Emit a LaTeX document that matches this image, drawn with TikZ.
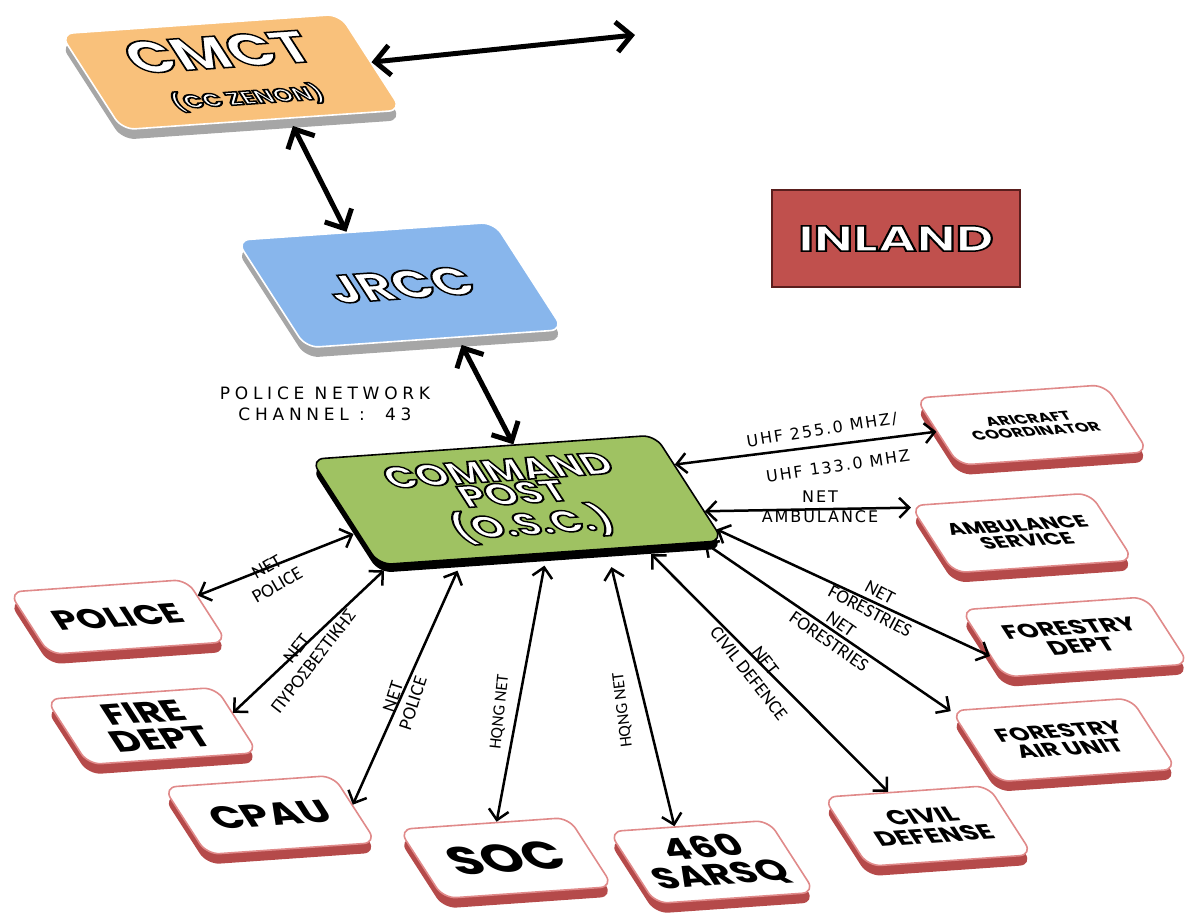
\documentclass[tikz,border=0pt]{standalone}
\usepackage{fontspec}
\usepackage{graphicx}
\setmainfont{Poppins}
\newfontfamily\labfont{DejaVu Sans}
\newfontfamily\netfont{Carlito}
\usetikzlibrary{arrows.meta,shadows}
\definecolor{cmctorange}{HTML}{F9C17B}
\definecolor{jrccblue}{HTML}{88B6EC}
\definecolor{cpgreen}{HTML}{9FC262}
\definecolor{inlandred}{HTML}{C0504D}
\definecolor{inlandedge}{HTML}{5A1E1D}
\definecolor{rimred}{HTML}{E08A8A}
\definecolor{sidered}{HTML}{B54A4A}
\newcommand{\fs}[1]{\fontsize{#1}{#1}\selectfont}
\newcommand{\wider}[1]{\scalebox{1.3}[1]{#1}}
\newcommand{\emb}[1]{\textcolor{white}{\special{pdf:literal direct 2 Tr 1.5 w 0 G}#1\special{pdf:literal direct 0 Tr}}}
\tikzset{
  slab/.style={rounded corners=13pt, rotate=4, xslant=-0.55, inner sep=0pt, line width=1.6pt, align=center},
  tsize/.style 2 args={font=\bfseries\fontsize{#1}{#2}\selectfont},
  redslab/.style={slab, fill=white, draw=rimred, general shadow={fill=sidered, shadow yshift=-10pt}},
  greyslab/.style={slab, draw=white, general shadow={fill=black!35, shadow yshift=-10pt}},
  blackslab/.style={slab, draw=black, general shadow={fill=black, shadow yshift=-8pt}},
  dims/.style 2 args={minimum width=#1, minimum height=#2},
  link/.style={{Straight Barb[length=10pt,width=20pt]}-{Straight Barb[length=10pt,width=20pt]}, line width=2.5pt},
  biglink/.style={{Straight Barb[length=15pt,width=30pt]}-{Straight Barb[length=15pt,width=30pt]}, line width=5pt},
  lab/.style={font=\labfont\addfontfeature{LetterSpace=12}\fontsize{16}{20}\selectfont, align=center, inner sep=0pt},
  netlab/.style={font=\netfont\fontsize{19}{21}\selectfont, align=center, inner sep=0pt}
}
\begin{document}
\begin{tikzpicture}[x=1pt,y=1pt]
\useasboundingbox (0,0) rectangle (1186,913);
\node[greyslab, fill=cmctorange, dims={280}{100}, tsize={46}{46}] (cmct) at (231,841) {\wider{\emb{CMCT}}\\[-8pt]\fs{19}\wider{\emb{(CC ZENON)}}};
\node[greyslab, fill=jrccblue, dims={258}{112}, tsize={40}{40}] (jrcc) at (400,628) {\wider{\emb{JRCC}}};
\node[blackslab, fill=cpgreen, dims={345}{110}, tsize={31}{24}] (cp) at (517,413) {\wider{\emb{COMMAND}}\\\wider{\emb{POST}}\\[2pt]\wider{\emb{(O.S.C.)}}};
\node[draw=inlandedge, fill=inlandred, line width=2pt, minimum width=248, minimum height=97, tsize={36}{36}] (inland) at (896,674.5) {\scalebox{1.45}[1]{\emb{INLAND}}};
\node[redslab, dims={190}{70}, tsize={13}{13}] (air) at (1032,488) {\wider{ARICRAFT}\\\wider{COORDINATOR}};
\node[redslab, dims={180}{70}, tsize={17}{16}] (amb) at (1022,380) {\wider{AMBULANCE}\\\wider{SERVICE}};
\node[redslab, dims={185}{70}, tsize={20}{19}] (fdept) at (1075,276) {\wider{FORESTRY}\\\wider{DEPT}};
\node[redslab, dims={180}{74}, tsize={19}{18}] (fair) at (1064,173) {\wider{FORESTRY}\\\wider{AIR UNIT}};
\node[redslab, dims={165}{72}, tsize={21}{20}] (civil) at (928,87) {\wider{CIVIL}\\\wider{DEFENSE}};
\node[redslab, dims={160}{75}, tsize={30}{28}] (sarsq) at (712,51) {\wider{460}\\\wider{SARSQ}};
\node[redslab, dims={170}{72}, tsize={40}{40}] (soc) at (506,55) {\wider{SOC}};
\node[redslab, dims={170}{70}, tsize={32}{32}] (cpau) at (270,98) {\wider{CPAU}};
\node[redslab, dims={170}{68}, tsize={30}{28}] (fire) at (152,187) {\wider{FIRE}\\\wider{DEPT}};
\node[redslab, dims={178}{65}, tsize={28}{28}] (police) at (118,296) {\wider{POLICE}};
\coordinate (ext) at (635,878);
\draw[biglink] (cmct.east) -- (ext);
\draw[biglink, shorten <=8pt] (cmct.-62) -- (jrcc.108);
\draw[biglink, shorten <=8pt] (jrcc.-68) -- (cp.61);
\draw[link] (cp.8) -- (air.west);
\draw[link] (cp.-8) -- (amb.160);
\draw[link] (cp.-14) -- (fdept.-172);
\draw[link] (cp.-20) -- (fair.158);
\draw[link, shorten <=10pt] (cp.-31) -- (civil.115);
\draw[link, shorten <=18pt] (cp.-45) -- (sarsq.110);
\draw[link, shorten <=12pt] (cp.-95) -- (soc.70);
\draw[link, shorten <=12pt] (cp.-148) -- (cpau.3);
\draw[link, shorten <=8pt] (cp.-161) -- (fire.5);
\draw[link, shorten <=4pt] (cp.-173) -- (police.10);
\node[lab, font=\labfont\addfontfeature{LetterSpace=28}\fontsize{17}{21}\selectfont] (pnet) at (325,509) {POLICE NETWORK\\CHANNEL :\ \ 43};
\node[lab, rotate=9] (uhfa) at (822,483) {UHF 255.0 MHZ/};
\node[lab, rotate=8.5] (uhfb) at (838,447) {UHF 133.0 MHZ};
\node[lab] (netamb) at (820,406) {NET\\AMBULANCE};
\node[netlab, rotate=30] (netpol) at (272,337) {NET\\POLICE};
\node[netlab, rotate=52] (netfire) at (305,258) {NET\\ΠΥΡΟΣΒΕΣΤΙΚΗΣ};
\node[netlab, rotate=72] (netcpau) at (403,213) {NET\\POLICE};
\node[netlab, rotate=84, font=\netfont\fs{17}] (hqsoc) at (500,201) {HQNG NET};
\node[netlab, rotate=97, font=\netfont\fs{17}] (hqsar) at (623,203) {HQNG NET};
\node[netlab, rotate=-52] (netcivil) at (757,246) {NET\\CIVIL DEFENCE};
\node[netlab, rotate=-28] (netfor1) at (875,311) {NET\\FORESTRIES};
\node[netlab, rotate=-35] (netfor2) at (835,280) {NET\\FORESTRIES};
\end{tikzpicture}
\end{document}
